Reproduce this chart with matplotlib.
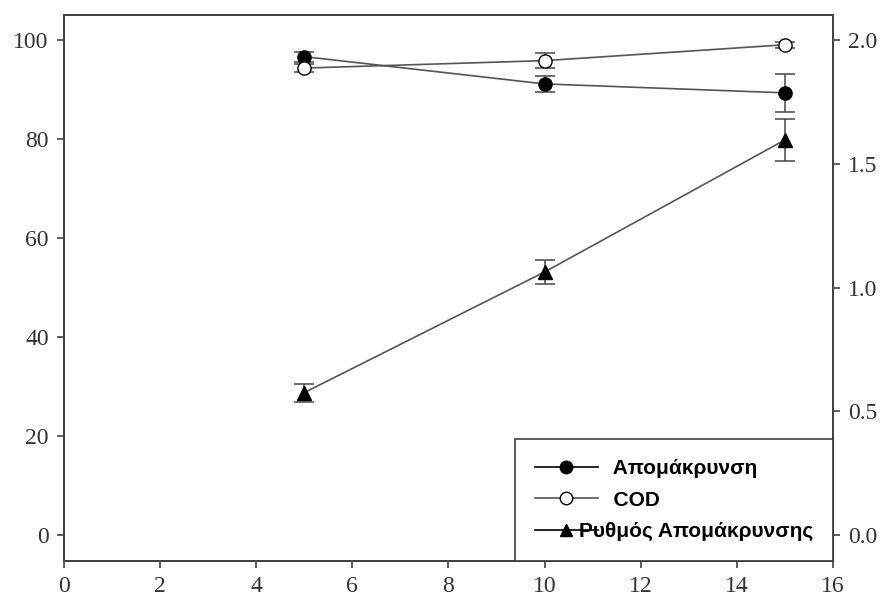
import numpy as np
import matplotlib.pyplot as plt
from matplotlib.lines import Line2D

x = [5, 10, 15]
removal = [96.6, 91.1, 89.3]
removal_err = [1.0, 1.6, 3.9]
cod = [94.3, 95.8, 99.0]
cod_err = [0.8, 1.5, 0.6]
rate = [0.576, 1.063, 1.596]
rate_err = [0.036, 0.048, 0.085]

labels = ['Απομάκρυνση', 'COD', 'Ρυθμός Απομάκρυνσης']

fig = plt.figure(figsize=(8.92, 6.02), dpi=100)
ax = fig.add_axes([0.0717, 0.068, 0.8622, 0.907])
ax2 = ax.twinx()

lc = '#555555'
ax.errorbar(x, removal, yerr=removal_err, color=lc, lw=1.2, marker='o', ms=9.5,
            mfc='black', mec='black', ecolor=lc, elinewidth=1.2, capsize=7, capthick=1.2)
ax.errorbar(x, cod, yerr=cod_err, color=lc, lw=1.2, marker='o', ms=9.5,
            mfc='white', mec='black', ecolor=lc, elinewidth=1.2, capsize=7, capthick=1.2)
ax2.errorbar(x, rate, yerr=rate_err, color=lc, lw=1.2, marker='^', ms=9.5,
             mfc='black', mec='black', ecolor=lc, elinewidth=1.2, capsize=7, capthick=1.2)

ax.set_xlim(0, 16)
ax.set_ylim(-5.2, 105)
ax2.set_ylim(-0.104, 2.1)
ax.set_xticks(np.arange(0, 17, 2))
ax.set_yticks(np.arange(0, 101, 20))
ax2.set_yticks([0.0, 0.5, 1.0, 1.5, 2.0])
ax2.set_yticklabels(['0.0', '0.5', '1.0', '1.5', '2.0'])

for lab in ax.get_xticklabels() + ax.get_yticklabels() + ax2.get_yticklabels():
    lab.set_fontfamily('Liberation Serif')
    lab.set_fontsize(17)
    lab.set_color('#333333')
ax.tick_params(direction='out', length=5, width=1.2, color='#444444', pad=6)
ax2.tick_params(direction='out', length=5, width=1.2, color='#444444', pad=6)
for a in (ax, ax2):
    for s in a.spines.values():
        s.set_color('#444444')
        s.set_linewidth(1.4)

handles = [
    Line2D([], [], color='black', lw=1.2, marker='o', ms=9, mfc='black', mec='black'),
    Line2D([], [], color=lc, lw=1.2, marker='o', ms=9, mfc='white', mec='black'),
    Line2D([], [], color='black', lw=1.2, marker='^', ms=8, mfc='black', mec='black'),
]
leg_labels = ['      ' + labels[0], '      ' + labels[1], labels[2]]
leg = ax2.legend(handles, leg_labels, loc='lower right', bbox_to_anchor=(1.0, 0.0),
                 borderaxespad=0, frameon=True, fancybox=False, edgecolor='#333333',
                 handlelength=3.0, handletextpad=-0.9, labelspacing=0.6,
                 borderpad=0.95, prop={'family': 'Liberation Sans', 'size': 15, 'weight': 'bold'})
leg.get_frame().set_linewidth(1.4)

fig.savefig('out.png', dpi=100)
